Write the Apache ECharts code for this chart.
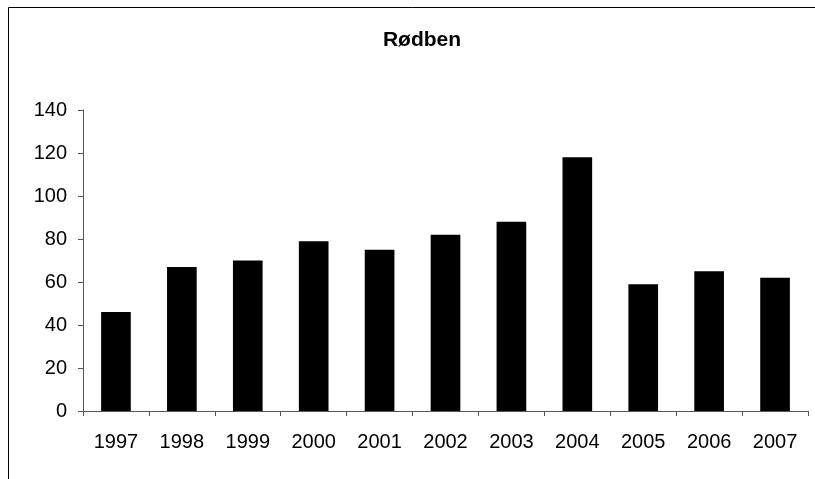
<!DOCTYPE html>
<html>
<head>
<meta charset="utf-8">
<script src="https://cdn.jsdelivr.net/npm/echarts@6/dist/echarts.min.js"></script>
<style>
html,body{margin:0;padding:0;background:#fff;}
#chart{width:815px;height:479px;}
</style>
</head>
<body>
<div id="chart"></div>
<script>
const titleText = "Rødben";
const categories = ["1997","1998","1999","2000","2001","2002","2003","2004","2005","2006","2007"];
const values = [46, 67, 70, 79, 75, 82, 88, 118, 59, 65, 62];
const yTicks = { min: 0, max: 140, interval: 20 };

const chart = echarts.init(document.getElementById('chart'), null, { renderer: 'canvas' });
const font = "'Liberation Sans', Arial, sans-serif";
chart.setOption({
  animation: false,
  backgroundColor: '#fff',
  title: {
    text: titleText,
    left: 417, top: 25, textAlign: 'center',
    textStyle: { fontFamily: font, fontSize: 21, fontWeight: 'bold', color: '#000' }
  },
  graphic: [{
    type: 'rect',
    shape: { x: 8.5, y: 7.5, width: 900, height: 600 },
    style: { fill: 'none', stroke: '#000', lineWidth: 1 },
    silent: true
  }],
  grid: { left: 83, right: 7, top: 110, bottom: 68, containLabel: false },
  xAxis: {
    type: 'category',
    data: categories,
    axisLine: { lineStyle: { color: '#555', width: 1 } },
    axisTick: { show: true, alignWithLabel: false, length: 5, lineStyle: { color: '#555' } },
    axisLabel: { fontFamily: font, fontSize: 20, color: '#000', margin: 21 },
    splitLine: { show: false }
  },
  yAxis: {
    type: 'value',
    min: yTicks.min, max: yTicks.max, interval: yTicks.interval,
    axisLine: { show: true, lineStyle: { color: '#555', width: 1 } },
    axisTick: { show: true, length: 5, lineStyle: { color: '#555' } },
    axisLabel: { fontFamily: font, fontSize: 20, color: '#000', margin: 16 },
    splitLine: { show: false }
  },
  series: [{
    type: 'bar',
    data: values,
    barWidth: '45%',
    itemStyle: { color: '#000' }
  }]
});
</script>
</body>
</html>
